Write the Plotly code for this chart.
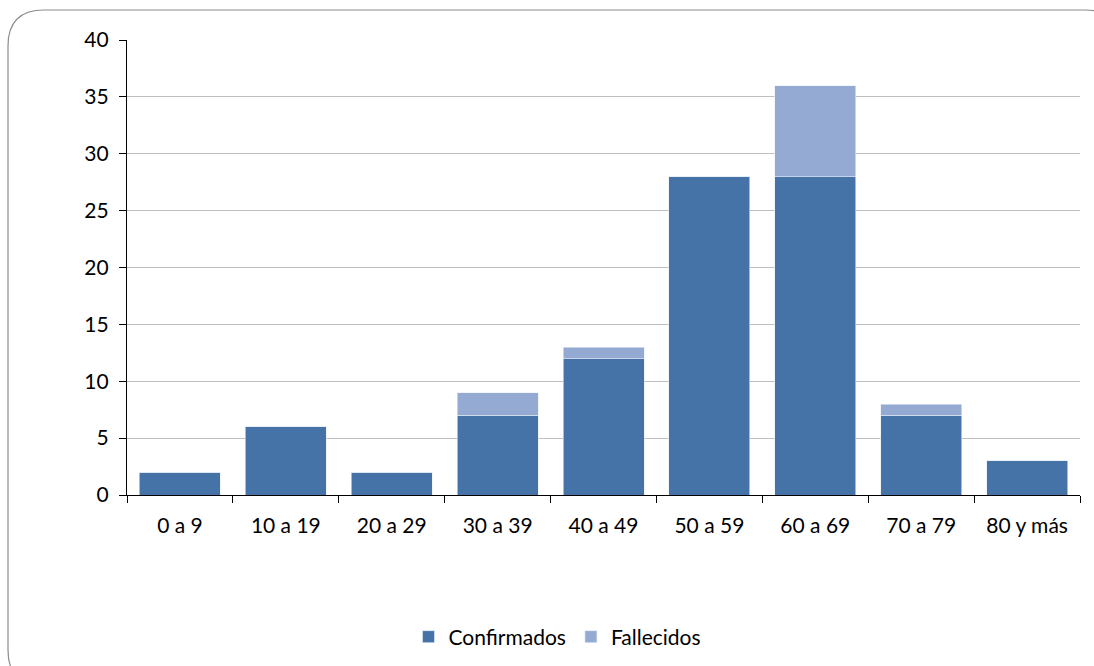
import plotly.graph_objects as go

grupos = ["0 a 9", "10 a 19", "20 a 29", "30 a 39", "40 a 49",
          "50 a 59", "60 a 69", "70 a 79", "80 y más"]
confirmados = [2, 6, 2, 7, 12, 28, 28, 7, 3]
fallecidos = [0, 0, 0, 2, 1, 0, 8, 1, 0]
y_ticks = [0, 5, 10, 15, 20, 25, 30, 35, 40]

W, H = 1094, 666
L, R, T, B = 127, 14, 40, 171
pw, ph = W - L - R, H - T - B

def px(x):
    return (x - L) / pw

def py(y):
    return (H - B - y) / ph

fig = go.Figure()
fig.add_trace(go.Bar(x=grupos, y=confirmados, name="Confirmados",
                     marker=dict(color="#4573A7", line=dict(color="#E8EEF7", width=0.6))))
fig.add_trace(go.Bar(x=grupos, y=fallecidos, name="Fallecidos",
                     marker=dict(color="#95AAD3", line=dict(color="#E8EEF7", width=0.6))))

# rounded frame around the chart
r = 36
x0, y0, x1, y1 = 8, 10, 1121, 686
path = (f"M {px(x0)},{py(y0 + r)} "
        f"Q {px(x0)},{py(y0)} {px(x0 + r)},{py(y0)} "
        f"L {px(x1 - r)},{py(y0)} "
        f"Q {px(x1)},{py(y0)} {px(x1)},{py(y0 + r)} "
        f"L {px(x1)},{py(y1 - r)} "
        f"Q {px(x1)},{py(y1)} {px(x1 - r)},{py(y1)} "
        f"L {px(x0 + r)},{py(y1)} "
        f"Q {px(x0)},{py(y1)} {px(x0)},{py(y1 - r)} Z")

fig.update_layout(
    width=W, height=H,
    margin=dict(l=L, r=R, t=T, b=B, autoexpand=False),
    barmode="stack", bargap=0.235,
    plot_bgcolor="white", paper_bgcolor="white",
    font=dict(family="Lato, Open Sans, sans-serif", size=21, color="#000000"),
    xaxis=dict(showline=True, linecolor="#000000", linewidth=1.2,
               ticks="outside", ticklen=7, tickcolor="#000000",
               tickson="boundaries", showgrid=False, automargin=False,
               tickfont=dict(size=21), ticklabelstandoff=12),
    yaxis=dict(range=[0, 40], tickvals=y_ticks, showline=True,
               linecolor="#000000", linewidth=1.2, automargin=False,
               ticks="outside", ticklen=7, tickcolor="#000000",
               showgrid=True, gridcolor="#BFBFBF", gridwidth=1,
               zeroline=False, tickfont=dict(size=21), ticklabelstandoff=6),
    legend=dict(orientation="h", x=0.5 - 46 / pw, xanchor="center", y=py(637),
                yanchor="middle", font=dict(size=21), traceorder="normal",
                itemwidth=30),
    shapes=[dict(type="path", path=path, xref="paper", yref="paper",
                 line=dict(color="#8C8C8C", width=1.2), layer="below")],
    showlegend=True,
)

fig.write_html("out.html")
